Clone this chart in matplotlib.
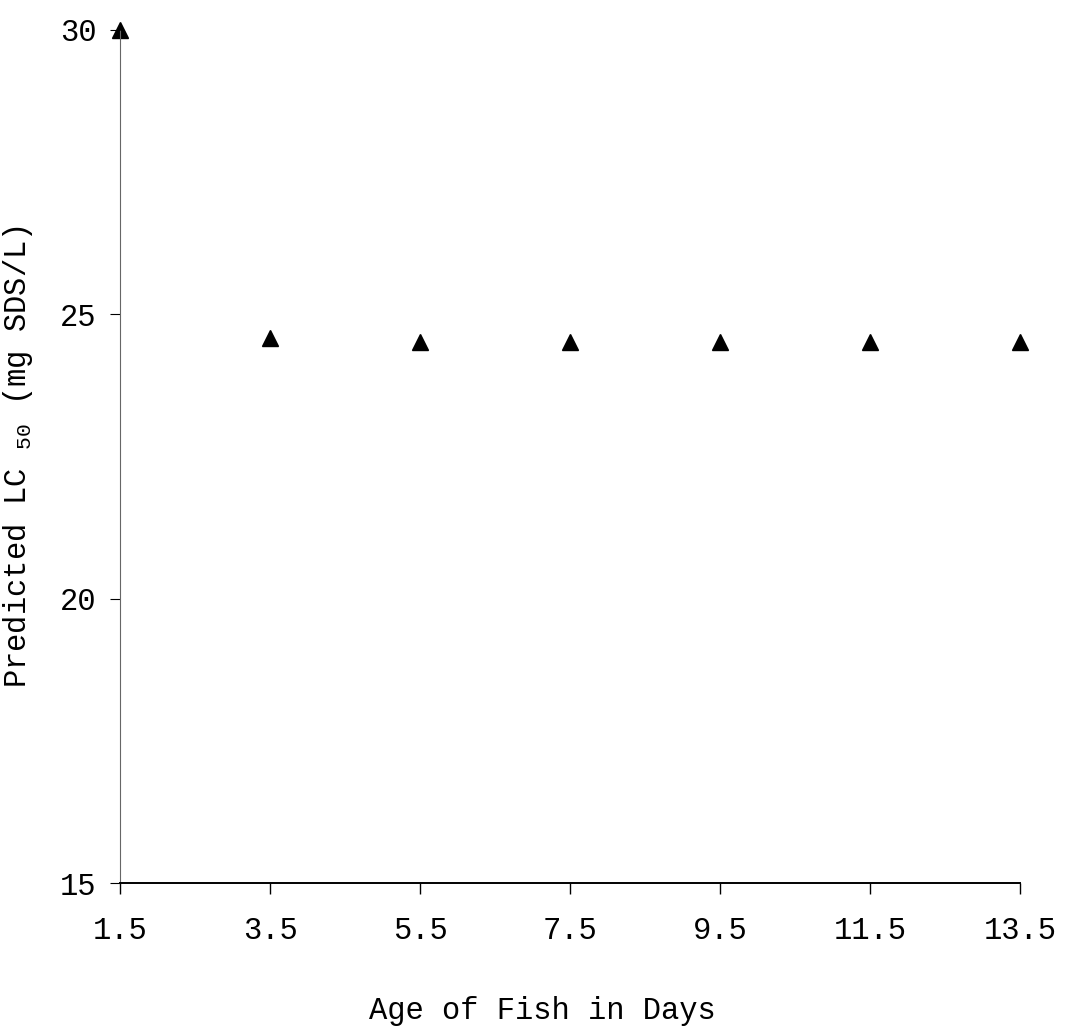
import matplotlib
matplotlib.use("Agg")
import matplotlib.pyplot as plt

plt.rcParams['font.family'] = ['Liberation Mono', 'DejaVu Sans Mono']
plt.rcParams['mathtext.fontset'] = 'custom'
plt.rcParams['mathtext.rm'] = 'Liberation Mono'

ages = [1.5, 3.5, 5.5, 7.5, 9.5, 11.5, 13.5]
lc50 = [30.0, 24.58, 24.51, 24.51, 24.51, 24.51, 24.51]
xticks = [1.5, 3.5, 5.5, 7.5, 9.5, 11.5, 13.5]
xticklabels = ["1.5", "3.5", "5.5", "7.5", "9.5", "11.5", "13.5"]
yticks = [15, 20, 25, 30]

fig = plt.figure(figsize=(10.67, 10.33), dpi=100)
ax = fig.add_axes([0.1125, 0.1452, 0.8435, 0.8258])

ax.plot(ages, lc50, linestyle='none', marker='^', markersize=12,
        color='black', clip_on=False)

ax.set_xlim(1.5, 13.5)
ax.set_ylim(15, 30)
ax.set_xticks(xticks)
ax.set_xticklabels(xticklabels)
ax.set_yticks(yticks)

for s in ['top', 'right']:
    ax.spines[s].set_visible(False)
ax.spines['left'].set_color('#666666')
ax.spines['left'].set_linewidth(0.8)
ax.spines['left'].set_linestyle((0, (2, 1)))
ax.spines['bottom'].set_color('black')
ax.spines['bottom'].set_linewidth(1.4)

ax.tick_params(axis='x', direction='out', length=8, width=1, pad=16,
               labelsize=22, colors='black')
ax.tick_params(axis='y', direction='out', length=7, width=0.8, pad=10,
               labelsize=22, colors='black')

ax.set_xlabel("Age of Fish in Days", fontsize=22)
ax.xaxis.set_label_coords(0.469, -0.133)
ax.set_ylabel(r"Predicted LC $\mathregular{_{50}}$ (mg SDS/L)", fontsize=22)
ax.yaxis.set_label_coords(-0.094, 0.5)

fig.savefig("out.png", dpi=100)
